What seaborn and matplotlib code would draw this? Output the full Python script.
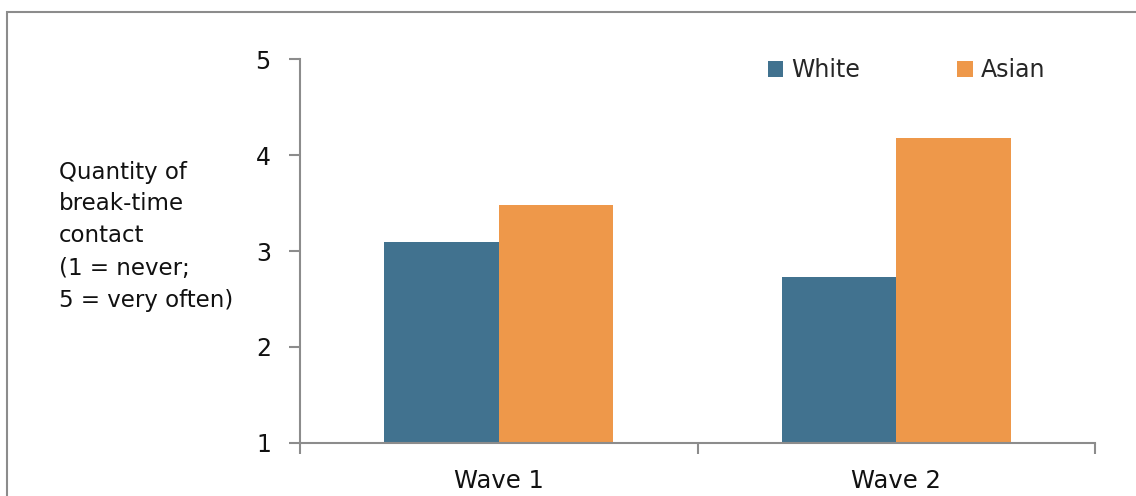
import matplotlib
matplotlib.use("Agg")
import matplotlib.pyplot as plt
import seaborn as sns
import pandas as pd
from matplotlib.patches import Patch, Rectangle
from matplotlib.ticker import FixedLocator

waves = ["Wave 1", "Wave 2"]
groups = ["White", "Asian"]
white_vals = [3.09, 2.73]
asian_vals = [3.48, 4.18]
colors = {"White": "#41728F", "Asian": "#EE984A"}
ylabel_text = "Quantity of\nbreak-time\ncontact\n(1 = never;\n5 = very often)"

sns.set_theme(style="white")
plt.rcParams["font.family"] = ["DejaVu Sans"]

df = pd.DataFrame({
    "wave": waves * 2,
    "group": ["White"] * 2 + ["Asian"] * 2,
    "value": white_vals + asian_vals,
})

fig = plt.figure(figsize=(11.36, 4.96), dpi=100)
ax = fig.add_axes([300 / 1136, (496 - 443) / 496, (1095 - 300) / 1136, (443 - 59) / 496])

sns.barplot(data=df, x="wave", y="value", hue="group", hue_order=groups,
            palette=colors, width=0.575, ax=ax, legend=False, saturation=1,
            edgecolor="none", linewidth=0)

ax.set_ylim(1, 5)
ax.set_xlim(-0.5, 1.5)
ax.set_yticks([1, 2, 3, 4, 5])
ax.set_xlabel("")
ax.set_ylabel("")

for s in ["top", "right"]:
    ax.spines[s].set_visible(False)
for s in ["left", "bottom"]:
    ax.spines[s].set_color("#8C8C8C")
    ax.spines[s].set_linewidth(1.5)

ax.tick_params(axis="y", which="major", direction="out", length=8, width=1.5,
               color="#8C8C8C", labelsize=17, labelcolor="#111111", pad=13, left=True)
ax.tick_params(axis="x", which="major", length=0, labelsize=17.5, labelcolor="#111111", pad=19)
ax.xaxis.set_minor_locator(FixedLocator([-0.5, 0.5, 1.5]))
ax.tick_params(axis="x", which="minor", direction="out", length=8, width=1.5,
               color="#8C8C8C", bottom=True)

fig.text(59 / 1136, 1 - 236 / 496, ylabel_text, fontsize=16.5, color="#111111",
         ha="left", va="center", linespacing=1.5)

handles = [Patch(facecolor=colors[g], edgecolor="none", label=g) for g in groups]
fig.legend(handles=handles, loc="center left", bbox_to_anchor=(768 / 1136, 1 - 70 / 496),
           ncol=2, frameon=False, fontsize=17, handlelength=0.65, handleheight=0.65,
           handletextpad=0.35, columnspacing=4.1, borderpad=0, borderaxespad=0)

border = Rectangle((7 / 1136, -0.1), 1.2, 1 - 12 / 496 + 0.1, transform=fig.transFigure,
                   fill=False, edgecolor="#8C8C8C", linewidth=1.5, clip_on=False)
fig.patches.append(border)

fig.savefig("out.png", dpi=100, facecolor="white")
